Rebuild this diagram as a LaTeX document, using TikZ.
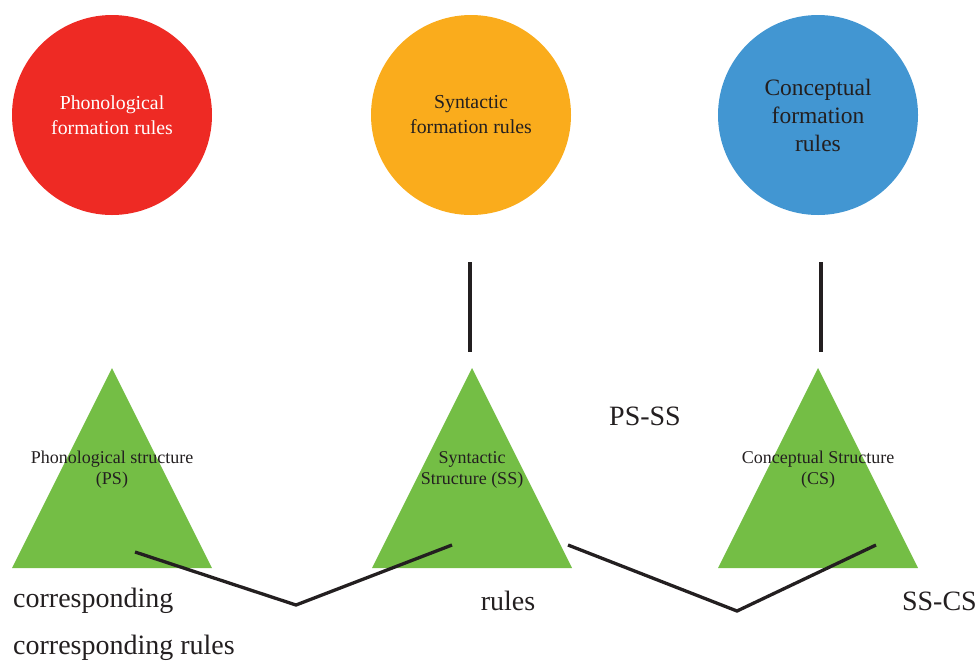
\documentclass[tikz,border=0pt]{standalone}
\usepackage{fontspec}
\setmainfont{Liberation Serif}
\definecolor{cred}{HTML}{EE2A24}
\definecolor{corange}{HTML}{FAAC1C}
\definecolor{cblue}{HTML}{4296D2}
\definecolor{cgreen}{HTML}{74BE45}
\definecolor{ctext}{HTML}{231F20}
\begin{document}
\begin{tikzpicture}[x=1pt,y=-1pt,
  rulecirc/.style={circle,minimum size=200pt,inner sep=0pt,align=center},
  tri/.style={fill=cgreen},
  tritext/.style={align=center,text=ctext,font=\fontsize{18}{21}\selectfont},
  conn/.style={line width=3.3pt,color=ctext},
  lbl/.style={text=ctext,font=\fontsize{28}{30}\selectfont,inner sep=0pt}]
\useasboundingbox (0,0) rectangle (976,662);
% circles
\node[rulecirc,fill=cred,text=white,font=\fontsize{19.8}{25}\selectfont] (pfr) at (112,115) {Phonological\\formation rules};
\node[rulecirc,fill=corange,text=ctext,font=\fontsize{19.8}{25}\selectfont] (sfr) at (471,115) {Syntactic\\formation rules};
\node[rulecirc,fill=cblue,text=ctext,font=\fontsize{23.5}{28}\selectfont] (cfr) at (818,115) {Conceptual\\formation\\rules};
% triangles
\fill[tri] (112,368) -- (212,568) -- (12,568) -- cycle;
\fill[tri] (472,368) -- (572,568) -- (372,568) -- cycle;
\fill[tri] (818,368) -- (918,568) -- (718,568) -- cycle;
\node[tritext] (ps) at (112,470) {Phonological structure\\(PS)};
\node[tritext] (ss) at (472,470) {Syntactic\\Structure (SS)};
\node[tritext] (cs) at (818,470) {Conceptual Structure\\(CS)};
% vertical connectors
\coordinate (sa) at (470,262); \coordinate (sb) at (470,352);
\coordinate (ca) at (821,262); \coordinate (cb) at (821,352);
\draw[conn] (sa) -- (sb);
\draw[conn] (ca) -- (cb);
% correspondence connectors
\coordinate (p1) at (135,552); \coordinate (v1) at (296,605); \coordinate (s1) at (452,545);
\coordinate (s2) at (568,545); \coordinate (v2) at (737,611); \coordinate (c2) at (876,545);
\draw[conn] (p1) -- (v1) -- (s1);
\draw[conn] (s2) -- (v2) -- (c2);
% labels
\node[lbl] (psss) at (645,416) {PS-SS};
\node[lbl,anchor=west] (corr1) at (13,601) {corresponding};
\node[lbl] (rules) at (508,601) {rules};
\node[lbl,anchor=east] (sscs) at (977,601) {SS-CS};
\node[lbl,anchor=west] (corr2) at (13,648) {corresponding rules};
\end{tikzpicture}
\end{document}
